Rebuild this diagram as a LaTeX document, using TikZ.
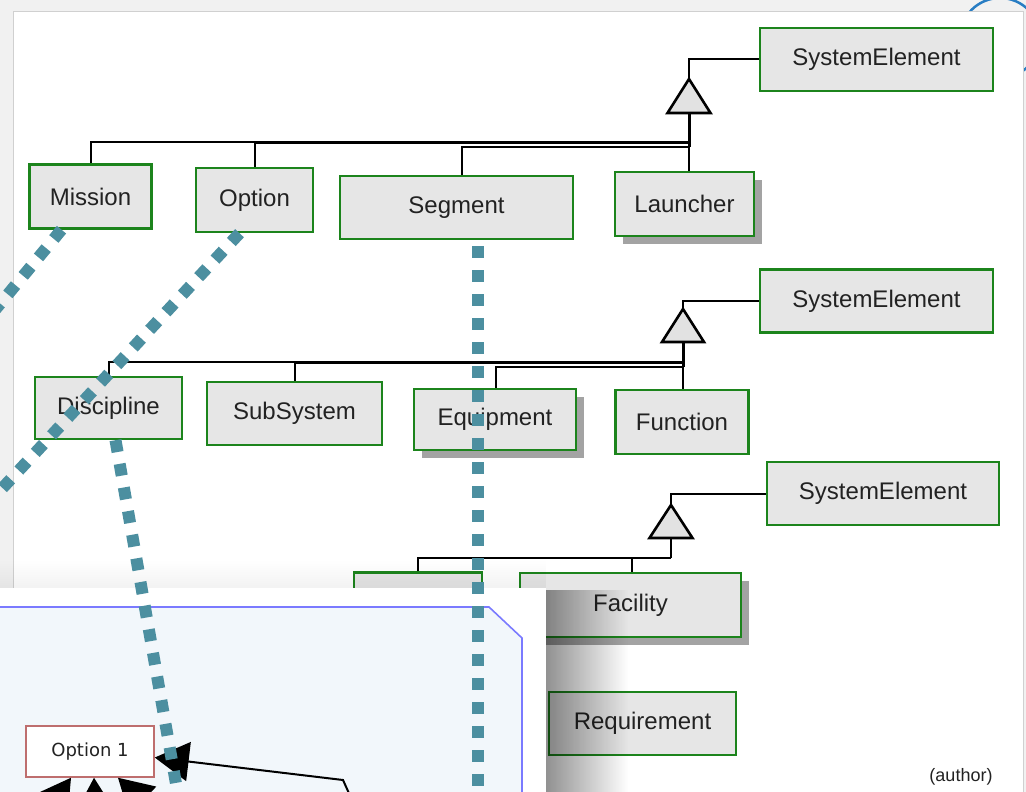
\documentclass[tikz,border=0pt]{standalone}
\usepackage{fontspec}
\setmainfont{Liberation Sans}
\newfontfamily\dejavu{DejaVu Sans}
\usetikzlibrary{shadows,fadings,arrows.meta,calc}

\definecolor{outerbg}{RGB}{241,241,241}
\definecolor{edgegray}{RGB}{208,208,208}
\definecolor{ringblue}{RGB}{40,125,195}
\definecolor{boxfill}{RGB}{230,230,230}
\definecolor{boxgreen}{RGB}{28,132,28}
\definecolor{shadowgray}{RGB}{163,163,163}
\definecolor{trifill}{RGB}{226,226,226}
\definecolor{txt}{RGB}{34,34,34}
\definecolor{tealdot}{RGB}{76,143,160}
\definecolor{panelfill}{RGB}{242,247,251}
\definecolor{panelline}{RGB}{122,122,255}
\definecolor{optred}{RGB}{190,110,110}

\tikzfading[name=faderight, left color=transparent!30, right color=transparent!100]
\tikzfading[name=fadedown, top color=transparent!100, bottom color=transparent!0]

\begin{document}
\begin{tikzpicture}[x=1pt,y=-1pt,
  box/.style={draw=boxgreen, line width=2.4pt, fill=boxfill, inner sep=0pt,
    text=txt, font=\fontsize{24}{27}\selectfont},
  shbox/.style={box, drop shadow={shadow xshift=8pt, shadow yshift=-8pt,
    fill=shadowgray, opacity=1}},
  conn/.style={draw=black, line width=2pt},
  stem/.style={draw=black, line width=3pt},
  tri/.style={draw=black, line width=2.6pt, fill=trifill, line join=miter},
  dotline/.style={draw=tealdot, line width=12pt, dash pattern=on 12pt off 12pt},
  bigtip/.style={conn, -{Triangle[length=34pt,width=39pt]}}]

\useasboundingbox (0,0) rectangle (1026,792);
\clip (0,0) rectangle (1026,792);

% page background and sheet
\fill[outerbg] (0,0) rectangle (1026,792);
\draw[ringblue, line width=2.5pt] (1000,38) circle[radius=40pt];
\fill[white] (13,11) rectangle (1023,800);
\draw[edgegray, line width=0.8pt] (13,800) -- (13,11) -- (1023,11) -- (1023,800);

% ---------- first hierarchy ----------
\node[box, minimum width=233pt, minimum height=63pt] (se1) at (876.5,59.5) {SystemElement};
\node[box, minimum width=122pt, minimum height=64pt] (mission) at (90.5,196.5) {Mission};
\node[box, minimum width=117pt, minimum height=64pt] (option) at (254.5,200) {Option};
\node[box, minimum width=233pt, minimum height=63pt] (segment) at (456.5,207.5) {Segment};
\node[shbox, minimum width=139pt, minimum height=64pt] (launcher) at (684.5,204) {Launcher};

\coordinate (t1a) at (689,79);
\coordinate (t1b) at (689,113);
\coordinate (bus1) at (689,142);
\coordinate (bus1b) at (689,147);
\draw[conn] (t1a) |- (se1.west);
\draw[conn] (mission.north) |- (bus1);
\draw[conn] (option.north) |- ($(bus1)+(0,1.2)$);
\draw[conn] ($(segment.north)+(5.5,0)$) |- (bus1b);
\draw[conn] (launcher.north -| t1b) -- (bus1b);
\draw[stem] (t1b) -- (bus1b);
\draw[tri] (t1a) -- ++(21.5,34) -- ++(-43,0) -- cycle;

% ---------- second hierarchy ----------
\node[box, minimum width=233pt, minimum height=63pt] (se2) at (876.5,301) {SystemElement};
\node[box, minimum width=147pt, minimum height=62pt] (discipline) at (108.5,408) {Discipline};
\node[box, minimum width=175pt, minimum height=63pt] (subsystem) at (294.5,413.5) {SubSystem};
\node[shbox, minimum width=162pt, minimum height=61pt] (equipment) at (495,419.5) {Equipment};
\node[box, minimum width=133pt, minimum height=64pt] (function) at (682,422) {Function};

\coordinate (t2a) at (683,309);
\coordinate (t2b) at (683,342);
\coordinate (bus2) at (683,361.5);
\coordinate (bus2b) at (683,367);
\draw[conn] (t2a) |- (se2.west);
\draw[conn] (discipline.north) |- (bus2);
\draw[conn] (subsystem.north) |- ($(bus2)+(0,1.2)$);
\draw[conn] ($(equipment.north)+(1,0)$) |- (bus2b);
\draw[conn] (function.north -| t2b) -- (bus2b);
\draw[stem] (t2b) -- (bus2b);
\draw[tri] (t2a) -- ++(21,33) -- ++(-42,0) -- cycle;

% ---------- third hierarchy ----------
\node[box, minimum width=232pt, minimum height=63pt] (se3) at (883,493.5) {SystemElement};
\node[box, minimum width=128pt, minimum height=63pt] (box7) at (418,604) {};
\node[shbox, minimum width=221pt, minimum height=64pt] (facility) at (630.5,605) {Facility};
\node[box, minimum width=187pt, minimum height=63pt] (requirement) at (642.5,723.5) {Requirement};

\coordinate (t3a) at (671,505);
\coordinate (t3b) at (671,538);
\coordinate (bus3) at (671,558);
\draw[conn] (t3a) |- (se3.west);
\draw[conn] (box7.north) |- (bus3);
\draw[conn] ($(facility.north)+(1.5,0)$) |- (bus3);
\draw[conn] (t3b) -- (bus3);
\draw[tri] (t3a) -- ++(21.5,33) -- ++(-43,0) -- cycle;

\node[text=txt, font=\fontsize{18}{20}\selectfont] (author) at (961,777) {(author)};

% ---------- overlaid window ----------
\fill[black, opacity=0.62, path fading=faderight] (546,590) rectangle (628,800);
\fill[black, opacity=0.05, path fading=fadedown] (-5,560) rectangle (546,588);
\fill[white] (-5,588) rectangle (546,800);
\filldraw[fill=panelfill, draw=panelline, line width=1.6pt]
  (-5,607) -- (489,607) -- (522,638) -- (522,800) -- (-5,800) -- cycle;

\node[draw=optred, line width=1.5pt, fill=white, minimum width=128pt, minimum height=51pt,
  inner sep=0pt, text=txt, font=\dejavu\fontsize{18}{20}\selectfont] (option1) at (90,751.5) {Option 1};

\draw[bigtip] (352,800) -- (343,780) -- ($(option1.east)+(0,6)$);
\draw[bigtip] (37,826) -- ($(option1.south)+(-19,0)$);
\draw[bigtip] (96,830) -- ($(option1.south)+(4,0)$);
\draw[bigtip] (161,818) -- ($(option1.south)+(28,0)$);

% ---------- trace links ----------
\draw[dotline] ($(mission.south)+(-29,0)$) -- (-30,340);
\draw[dotline] ($(option.south)+(-15,0)$) -- (-30,523);
\draw[dotline] ($(discipline.south)+(7,0)$) -- (178,795);
\draw[dotline] ($(segment.south)+(21.5,6)$) -- (478,800);

\end{tikzpicture}
\end{document}
